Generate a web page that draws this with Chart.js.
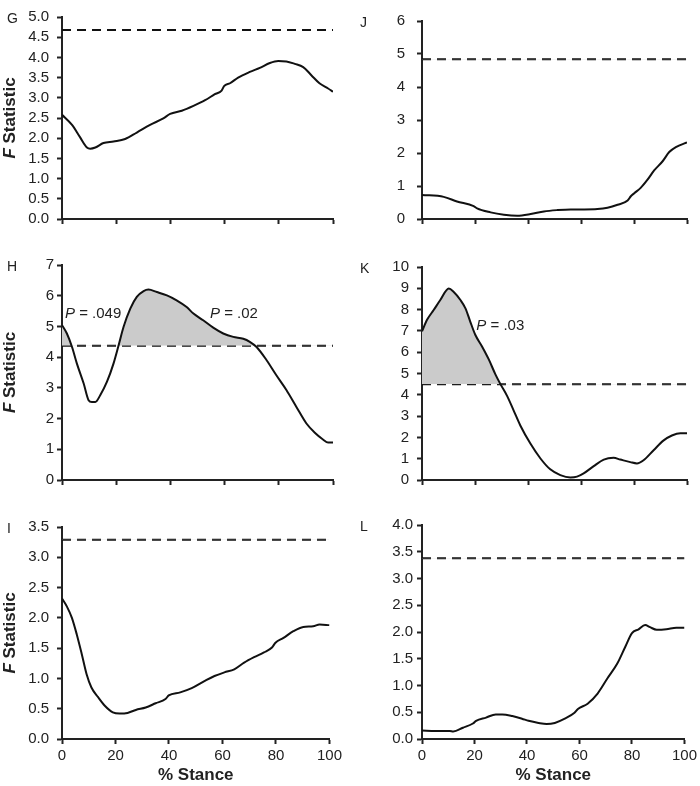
<!DOCTYPE html>
<html>
<head>
<meta charset="utf-8">
<script src="https://cdn.jsdelivr.net/npm/chart.js@4.4.1/dist/chart.umd.min.js"></script>
<style>
  html, body { margin: 0; padding: 0; background: #fff; }
  #wrap { position: relative; width: 700px; height: 786px; }
  #wrap canvas { position: absolute; }
</style>
</head>
<body>
<div id="wrap">
  <canvas id="g" width="345" height="250" style="left:0;top:0"></canvas>
  <canvas id="j" width="350" height="250" style="left:350px;top:0"></canvas>
  <canvas id="h" width="345" height="260" style="left:0;top:250px"></canvas>
  <canvas id="k" width="350" height="260" style="left:350px;top:250px"></canvas>
  <canvas id="i" width="345" height="276" style="left:0;top:510px"></canvas>
  <canvas id="l" width="350" height="276" style="left:350px;top:510px"></canvas>
</div>
<script>
// ── Data (F statistic over % stance) ───────────────────────────────
const xTicks = [0, 20, 40, 60, 80, 100];

const stanceG = [0, 3.7, 6.7, 9.2, 10.4, 12.3, 15.3, 19, 23.3, 27.6, 32.5, 37.4, 39.9, 44.2, 48.5, 52.8, 56.4, 58.9, 59.8, 62, 65, 69.3, 73, 76.7, 79.8, 82.8, 85.9, 89, 92, 95, 98.2, 100];
const fG      = [2.58, 2.33, 2.02, 1.77, 1.74, 1.77, 1.88, 1.92, 1.98, 2.14, 2.33, 2.49, 2.6, 2.68, 2.8, 2.94, 3.09, 3.18, 3.29, 3.36, 3.5, 3.64, 3.74, 3.86, 3.91, 3.9, 3.84, 3.76, 3.56, 3.36, 3.23, 3.15];
const critG = 4.68;

const stanceJ = [0, 8.2, 13.2, 19.5, 20.8, 25.9, 30.9, 35.9, 41, 46, 51.1, 56.1, 61.2, 66.2, 70, 73.8, 77.6, 78.8, 80.1, 82.6, 85.1, 87.6, 90.8, 93.3, 95.8, 100];
const fJ      = [0.73, 0.67, 0.53, 0.39, 0.32, 0.2, 0.13, 0.1, 0.15, 0.23, 0.27, 0.29, 0.29, 0.3, 0.34, 0.43, 0.56, 0.69, 0.78, 0.95, 1.19, 1.47, 1.75, 2.03, 2.18, 2.32];
const critJ = 4.84;

const stanceH = [0, 1.8, 3.7, 5.5, 8, 9.8, 11, 12.3, 14.1, 16.6, 19, 20.9, 22.7, 25.2, 27.6, 30.1, 31.9, 35, 38.7, 42.3, 46, 48.5, 52.1, 55.8, 59.5, 63.2, 66.9, 69.3, 71.8, 75.5, 79.1, 82.8, 86.5, 90.2, 93.3, 96.3, 98.2, 100];
const fH      = [5.04, 4.77, 4.33, 3.79, 3.14, 2.6, 2.54, 2.54, 2.76, 3.2, 3.79, 4.39, 4.98, 5.58, 5.96, 6.15, 6.2, 6.12, 6.01, 5.85, 5.63, 5.42, 5.2, 4.96, 4.77, 4.66, 4.6, 4.5, 4.33, 3.9, 3.41, 2.93, 2.38, 1.84, 1.54, 1.32, 1.22, 1.22];
const critH = 4.37;

const stanceK = [0, 1.9, 4.4, 6.9, 10.1, 11.9, 14.5, 16.4, 18.2, 20.1, 22.6, 25.2, 27.7, 29.6, 32.1, 34.6, 37.1, 40.9, 44.7, 48.4, 52.2, 56, 58.5, 61, 64.8, 68.6, 72.3, 74.8, 78.6, 81.1, 83.6, 87.4, 91.2, 94.3, 97.5, 100];
const fK      = [6.98, 7.52, 7.98, 8.45, 8.99, 8.84, 8.45, 8.06, 7.44, 6.82, 6.28, 5.66, 4.96, 4.5, 3.95, 3.26, 2.56, 1.71, 1.01, 0.5, 0.23, 0.12, 0.16, 0.31, 0.65, 0.96, 1.04, 0.96, 0.84, 0.78, 0.93, 1.4, 1.86, 2.09, 2.2, 2.2];
const critK = 4.5;

const stanceI = [0, 1.8, 3.7, 5.5, 7.4, 9.2, 11, 13.5, 16, 19, 21.5, 24.5, 27.6, 31.3, 35, 38.7, 39.9, 44.2, 48.5, 53.4, 57, 60.7, 64.4, 68.1, 71.8, 75.5, 78.5, 79.8, 82.8, 86.5, 90.2, 93.9, 96.3, 100];
const fI      = [2.32, 2.19, 2.0, 1.73, 1.4, 1.07, 0.85, 0.69, 0.55, 0.44, 0.42, 0.43, 0.48, 0.52, 0.59, 0.66, 0.72, 0.77, 0.84, 0.96, 1.04, 1.1, 1.15, 1.26, 1.35, 1.43, 1.51, 1.59, 1.67, 1.78, 1.85, 1.86, 1.89, 1.88];
const critI = 3.29;

const stanceL = [0, 5, 10.6, 11.9, 15.6, 19.4, 20.6, 24.4, 28.1, 30.6, 34.4, 38.1, 40.6, 44.4, 47.5, 50.6, 54.4, 58.1, 59.4, 63.1, 66.9, 70.6, 74.4, 77.5, 80, 82.5, 85, 86.9, 89.4, 93.1, 96.9, 100];
const fL      = [0.16, 0.15, 0.15, 0.14, 0.21, 0.29, 0.34, 0.4, 0.46, 0.46, 0.43, 0.38, 0.34, 0.3, 0.28, 0.3, 0.38, 0.49, 0.56, 0.66, 0.85, 1.13, 1.41, 1.73, 1.98, 2.05, 2.13, 2.09, 2.04, 2.05, 2.08, 2.08];
const critL = 3.38;

// ── Styles ─────────────────────────────────────────────────────────
const FONT = '"Liberation Sans", Arial, Helvetica, sans-serif';
const INK = '#222';
const SHADE = '#cbcbcb';

// ── Text plugin: panel letter, F Statistic title, P notes ─────────
const panelText = {
  id: 'panelText',
  afterDraw(chart, args, o) {
    const ctx = chart.ctx;
    const area = chart.chartArea;
    const sx = chart.scales.x, sy = chart.scales.y;
    ctx.save();
    ctx.fillStyle = INK;
    ctx.textBaseline = 'middle';
    ctx.textAlign = 'left';
    ctx.font = '14px ' + FONT;
    ctx.fillText(o.letter, o.letterX, area.top + 2);

    if (o.yTitle) {
      ctx.save();
      ctx.translate(o.yTitleX, (area.top + area.bottom) / 2);
      ctx.rotate(-Math.PI / 2);
      const f1 = 'italic bold 17px ' + FONT, f2 = 'bold 17px ' + FONT;
      ctx.font = f1; const w1 = ctx.measureText('F').width;
      ctx.font = f2; const w2 = ctx.measureText(' Statistic').width;
      const x0 = -(w1 + w2) / 2;
      ctx.font = f1; ctx.fillText('F', x0, 0);
      ctx.font = f2; ctx.fillText(' Statistic', x0 + w1, 0);
      ctx.restore();
    }

    (o.notes || []).forEach(n => {
      const px = sx.getPixelForValue(n.x), py = sy.getPixelForValue(n.y);
      ctx.font = 'italic 15px ' + FONT;
      ctx.fillText('P', px, py);
      const w = ctx.measureText('P').width;
      ctx.font = '15px ' + FONT;
      ctx.fillText(' = ' + n.p, px + w, py);
    });
    ctx.restore();
  }
};

// ── Chart builder ──────────────────────────────────────────────────
function makePanel(id, stance, values, crit, cfg) {
  const curve = stance.map((x, k) => ({ x, y: values[k] }));
  const threshold = stance.map(x => ({ x, y: crit }));
  const dec = cfg.step < 1 ? 1 : 0;
  return new Chart(document.getElementById(id), {
    type: 'line',
    data: {
      datasets: [
        {
          data: curve,
          borderColor: '#111',
          borderWidth: 2,
          pointRadius: 0,
          cubicInterpolationMode: 'monotone',
          fill: { target: 1, above: SHADE, below: 'rgba(0,0,0,0)' },
        },
        {
          data: threshold,
          borderColor: '#111',
          borderWidth: 2,
          borderDash: [9, 6],
          pointRadius: 0,
          fill: false,
        },
      ],
    },
    options: {
      responsive: false,
      animation: false,
      events: [],
      layout: { padding: { top: cfg.top, right: cfg.right, left: 0, bottom: 0 } },
      plugins: {
        legend: { display: false },
        tooltip: { enabled: false },
        panelText: { letter: cfg.letter, letterX: cfg.letterX, yTitle: cfg.yTitle, yTitleX: 10, notes: cfg.notes },
      },
      scales: {
        x: {
          type: 'linear',
          min: 0, max: 100,
          afterBuildTicks: s => { s.ticks = xTicks.map(v => ({ value: v })); },
          afterFit: s => { s.height = cfg.xHeight; },
          border: { display: true, color: INK, width: 2 },
          grid: { drawOnChartArea: false, drawTicks: true, tickLength: 5, tickColor: INK, tickWidth: 2 },
          ticks: { display: cfg.xLabels, autoSkip: false, color: INK, padding: 3, font: { family: FONT, size: 15 }, maxRotation: 0 },
          title: {
            display: cfg.xLabels, text: '% Stance', color: INK,
            font: { family: FONT, size: 17, weight: 'bold' }, padding: { top: 0, bottom: 0 },
          },
        },
        y: {
          min: 0, max: cfg.max,
          afterFit: s => { s.width = cfg.yWidth; },
          border: { display: true, color: INK, width: 2 },
          grid: { drawOnChartArea: false, drawTicks: true, tickLength: 5, tickColor: INK, tickWidth: 2 },
          ticks: {
            stepSize: cfg.step, autoSkip: false, color: INK, padding: cfg.tickPad,
            font: { family: FONT, size: 15 },
            callback: v => Number(v).toFixed(dec),
          },
        },
      },
    },
    plugins: [panelText],
  });
}

// ── Panels ─────────────────────────────────────────────────────────
const LEFT = { yWidth: 62, right: 12, letterX: 7, yTitle: true };
const RIGHT = { yWidth: 72, right: 13, letterX: 10, yTitle: false };

makePanel('g', stanceG, fG, critG, { ...LEFT, letter: 'G', max: 5, step: 0.5, tickPad: 8, top: 6, xHeight: 31, xLabels: false });
makePanel('j', stanceJ, fJ, critJ, { ...RIGHT, letter: 'J', max: 6, step: 1, tickPad: 12, top: 6, xHeight: 31, xLabels: false });
makePanel('h', stanceH, fH, critH, {
  ...LEFT, letter: 'H', max: 7, step: 1, tickPad: 3, top: 15, xHeight: 30, xLabels: false,
  notes: [{ x: 1.1, y: 5.4, p: '.049' }, { x: 54.6, y: 5.4, p: '.02' }],
});
makePanel('k', stanceK, fK, critK, {
  ...RIGHT, letter: 'K', max: 10, step: 1, tickPad: 8, top: 15, xHeight: 30, xLabels: false,
  notes: [{ x: 20.5, y: 7.26, p: '.03' }],
});
makePanel('i', stanceI, fI, critI, { ...LEFT, letter: 'I', max: 3.5, step: 0.5, tickPad: 8, top: 15, xHeight: 47, xLabels: true });
makePanel('l', stanceL, fL, critL, { ...RIGHT, letter: 'L', max: 4, step: 0.5, tickPad: 4, top: 15, xHeight: 47, xLabels: true });
</script>
</body>
</html>
